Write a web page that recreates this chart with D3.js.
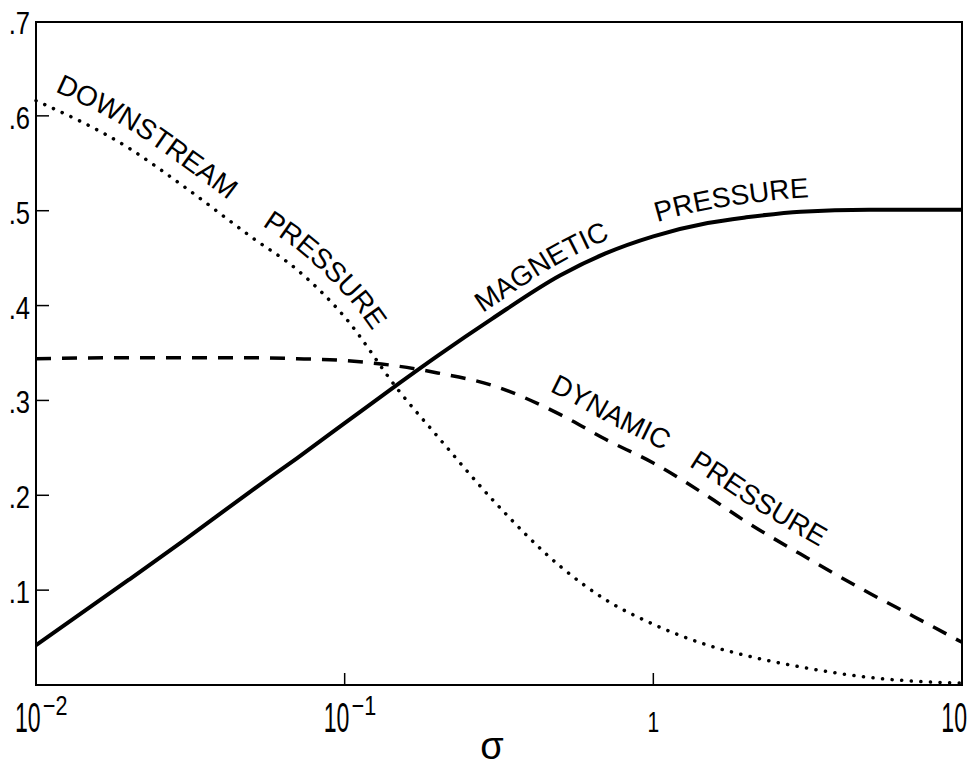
<!DOCTYPE html>
<html>
<head>
<meta charset="utf-8">
<script src="https://cdn.jsdelivr.net/npm/d3@7"></script>
<style>
  body { margin: 0; background: #fff; }
  text { font-family: "Liberation Sans", Arial, sans-serif; fill: #000; }
</style>
</head>
<body>
<div class="chart"></div>
<script>
var svgWidth = 977;
var svgHeight = 766;

var margin = { top: 21, right: 15, bottom: 81, left: 36 };

var width = svgWidth - margin.left - margin.right;
var height = svgHeight - margin.top - margin.bottom;

// values
var sigma = [0.01, 0.02, 0.03, 0.05, 0.07, 0.1, 0.15, 0.2, 0.3, 0.5, 0.7, 1, 1.5, 2, 3, 5, 7, 10];
var magnetic = [0.042, 0.111, 0.152, 0.205, 0.239, 0.276, 0.318, 0.347, 0.386, 0.432, 0.455, 0.473, 0.487, 0.493, 0.499, 0.501, 0.501, 0.501];
var dynamic = [0.344, 0.345, 0.345, 0.345, 0.344, 0.342, 0.336, 0.329, 0.316, 0.285, 0.259, 0.234, 0.199, 0.172, 0.138, 0.097, 0.072, 0.045];
var downstream = [0.616, 0.566, 0.526, 0.472, 0.438, 0.388, 0.310, 0.262, 0.196, 0.125, 0.090, 0.064, 0.042, 0.031, 0.019, 0.008, 0.004, 0.002];

var yTicks = [0.1, 0.2, 0.3, 0.4, 0.5, 0.6, 0.7];
var yTickLabels = [".1", ".2", ".3", ".4", ".5", ".6", ".7"];
var xTicks = [0.01, 0.1, 1, 10];
var xTickBase = ["10", "10", "1", "10"];
var xTickExp = ["\u22122", "\u22121", "", ""];

var svg = d3.select(".chart")
  .append("svg")
  .attr("width", svgWidth)
  .attr("height", svgHeight);

var chart = svg.append("g")
  .attr("transform", "translate(" + margin.left + "," + margin.top + ")");

var xLogScale = d3.scaleLog().domain([0.01, 10]).range([0, width]);
var yLinearScale = d3.scaleLinear().domain([0, 0.7]).range([height, 0]);

function rows(values) {
  return sigma.map(function(s, i) { return { s: s, v: values[i] }; });
}

// frame
chart.append("rect")
  .attr("x", 0)
  .attr("y", 1)
  .attr("width", width)
  .attr("height", height - 1)
  .attr("fill", "none")
  .attr("stroke", "#000")
  .attr("stroke-width", 2);

// inward ticks on the left
chart.selectAll(".ytick")
  .data(yTicks.slice(0, 6))
  .enter().append("line")
    .attr("x1", 0)
    .attr("x2", 13)
    .attr("y1", function(d) { return yLinearScale(d); })
    .attr("y2", function(d) { return yLinearScale(d); })
    .attr("stroke", "#000")
    .attr("stroke-width", 1.5);

chart.selectAll(".xtick")
  .data([0.1, 1])
  .enter().append("line")
    .attr("x1", function(d) { return xLogScale(d); })
    .attr("x2", function(d) { return xLogScale(d); })
    .attr("y1", height)
    .attr("y2", height - 12)
    .attr("stroke", "#000")
    .attr("stroke-width", 1.5);

// y tick labels (condensed look)
chart.selectAll(".ylab")
  .data(yTicks)
  .enter().append("text")
    .attr("transform", function(d) {
      return "translate(" + (-6) + "," + (yLinearScale(d) + 13) + ") scale(0.8,1)";
    })
    .attr("text-anchor", "end")
    .attr("font-size", 32)
    .text(function(d, i) { return yTickLabels[i]; });

// x tick labels
xTicks.forEach(function(t, i) {
  var px = xLogScale(t);
  if (xTickExp[i]) {
    chart.append("text")
      .attr("transform", "translate(" + (px - 21) + "," + (height + 47) + ") scale(0.55,1)")
      .attr("font-size", 42)
      .text(xTickBase[i]);
    chart.append("text")
      .attr("transform", "translate(" + (px + 7) + "," + (height + 30) + ") scale(0.8,1)")
      .attr("font-size", 27)
      .text(xTickExp[i]);
  } else if (xTickBase[i] === "1") {
    chart.append("text")
      .attr("transform", "translate(" + px + "," + (height + 47) + ") scale(0.7,1)")
      .attr("text-anchor", "middle")
      .attr("font-size", 30)
      .text(xTickBase[i]);
  } else {
    chart.append("text")
      .attr("transform", "translate(" + (px + 5) + "," + (height + 47) + ") scale(0.55,1)")
      .attr("text-anchor", "end")
      .attr("font-size", 42)
      .text(xTickBase[i]);
  }
});

// axis title
chart.append("text")
  .attr("x", xLogScale(0.3))
  .attr("y", height + 74)
  .attr("text-anchor", "middle")
  .attr("font-size", 38)
  .text("\u03c3");

var line = d3.line()
  .x(function(d) { return xLogScale(d.s); })
  .y(function(d) { return yLinearScale(d.v); })
  .curve(d3.curveMonotoneX);

chart.append("path")
  .datum(rows(downstream))
  .attr("d", line)
  .attr("fill", "none")
  .attr("stroke", "#000")
  .attr("stroke-width", 3.5)
  .attr("stroke-linecap", "round")
  .attr("stroke-dasharray", "0.1,9.5");

chart.append("path")
  .datum(rows(dynamic))
  .attr("d", line)
  .attr("fill", "none")
  .attr("stroke", "#000")
  .attr("stroke-width", 3.5)
  .attr("stroke-dasharray", "15,11");

chart.append("path")
  .datum(rows(magnetic))
  .attr("d", line)
  .attr("fill", "none")
  .attr("stroke", "#000")
  .attr("stroke-width", 4);

// curve labels, set on a path shifted off each curve
var labels = [
  { id: "lab-down", values: downstream, dx: 6, dy: -15, words: [["DOWNSTREAM", 0.0115], ["PRESSURE", 0.054]] },
  { id: "lab-mag", values: magnetic, dx: 3, dy: -14, words: [["MAGNETIC", 0.28], ["PRESSURE", 1.03]] },
  { id: "lab-dyn", values: dynamic, dx: 2, dy: -17, words: [["DYNAMIC", 0.46], ["PRESSURE", 1.3]] }
];

labels.forEach(function(lab) {
  var shifted = d3.line()
    .x(function(d) { return xLogScale(d.s) + lab.dx; })
    .y(function(d) { return yLinearScale(d.v) + lab.dy; })
    .curve(d3.curveMonotoneX);

  var p = chart.append("path")
    .attr("id", lab.id)
    .attr("d", shifted(rows(lab.values)))
    .attr("fill", "none")
    .attr("stroke", "none");

  var node = p.node();
  var total = node.getTotalLength();

  lab.words.forEach(function(w) {
    var target = xLogScale(w[1]);
    var lo = 0, hi = total;
    for (var k = 0; k < 40; k++) {
      var mid = (lo + hi) / 2;
      if (node.getPointAtLength(mid).x < target) lo = mid; else hi = mid;
    }
    chart.append("text")
      .attr("font-size", 28)
      .append("textPath")
        .attr("href", "#" + lab.id)
        .attr("startOffset", lo)
        .text(w[0]);
  });
});
</script>
</body>
</html>
